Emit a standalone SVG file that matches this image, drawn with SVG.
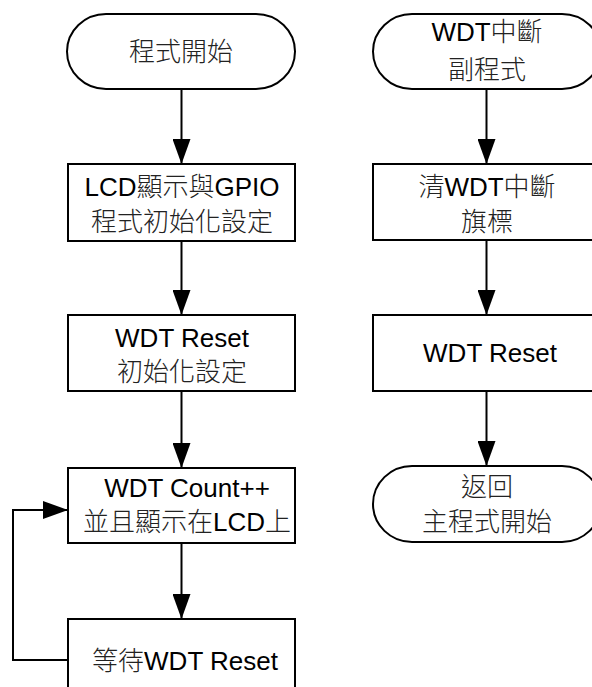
<svg xmlns="http://www.w3.org/2000/svg" width="592" height="687" viewBox="0 0 592 687">
<defs>
<style>
.shape{fill:#fff;stroke:#000;stroke-width:2}
.lbl{font-family:"Liberation Sans","Noto Sans CJK TC",sans-serif;font-size:26px;fill:#000;text-anchor:middle}
.cjk{font-family:"Noto Sans CJK TC",sans-serif;font-weight:300;fill:#222}
.conn{fill:none;stroke:#000;stroke-width:2}
</style>
<marker id="ah" markerUnits="userSpaceOnUse" markerWidth="26" markerHeight="18" refX="25" refY="9" orient="auto">
<path d="M0,0 L25,9 L0,18 Z" fill="#000"/>
</marker>
</defs>
<rect width="592" height="687" fill="#fff"/>
<g id="connectors">
<line class="conn" x1="181.5" y1="89" x2="181.5" y2="164" marker-end="url(#ah)"/>
<line class="conn" x1="181.5" y1="241" x2="181.5" y2="315" marker-end="url(#ah)"/>
<line class="conn" x1="181.5" y1="391" x2="181.5" y2="468" marker-end="url(#ah)"/>
<line class="conn" x1="181.5" y1="543" x2="181.5" y2="619" marker-end="url(#ah)"/>
<polyline class="conn" points="68,660 13,660 13,510 68,510" marker-end="url(#ah)"/>
<line class="conn" x1="486.5" y1="89" x2="486.5" y2="164" marker-end="url(#ah)"/>
<line class="conn" x1="486.5" y1="240" x2="486.5" y2="315" marker-end="url(#ah)"/>
<line class="conn" x1="486.5" y1="391" x2="486.5" y2="466" marker-end="url(#ah)"/>
</g>
<g id="start">
<rect class="shape" x="67" y="14" width="228" height="75" rx="39" ry="37.5"/>
<text class="lbl" x="181" y="61"><tspan class="cjk">程式開始</tspan></text>
</g>
<g id="init-lcd">
<rect class="shape" x="68" y="164" width="227" height="77"/>
<text class="lbl" x="182" y="196">LCD<tspan class="cjk">顯示與</tspan>GPIO</text>
<text class="lbl" x="182" y="231"><tspan class="cjk">程式初始化設定</tspan></text>
</g>
<g id="wdt-init">
<rect class="shape" x="68" y="315" width="227" height="76"/>
<text class="lbl" x="182" y="347">WDT Reset</text>
<text class="lbl" x="182" y="381"><tspan class="cjk">初始化設定</tspan></text>
</g>
<g id="count">
<rect class="shape" x="68" y="468" width="227" height="75"/>
<text class="lbl" x="187" y="497">WDT Count++</text>
<text class="lbl" x="187" y="531"><tspan class="cjk">並且顯示在</tspan>LCD<tspan class="cjk">上</tspan></text>
</g>
<g id="wait">
<rect class="shape" x="68" y="619" width="227" height="80"/>
<text class="lbl" x="185" y="670"><tspan class="cjk">等待</tspan>WDT Reset</text>
</g>
<g id="isr">
<rect class="shape" x="373" y="14" width="228" height="75" rx="39" ry="37.5"/>
<text class="lbl" x="487" y="41">WDT<tspan class="cjk">中斷</tspan></text>
<text class="lbl" x="487" y="79"><tspan class="cjk">副程式</tspan></text>
</g>
<g id="clear-flag">
<rect class="shape" x="373" y="164" width="228" height="76"/>
<text class="lbl" x="487" y="196"><tspan class="cjk">清</tspan>WDT<tspan class="cjk">中斷</tspan></text>
<text class="lbl" x="487" y="231"><tspan class="cjk">旗標</tspan></text>
</g>
<g id="wdt-reset">
<rect class="shape" x="373" y="315" width="228" height="76"/>
<text class="lbl" x="490" y="362">WDT Reset</text>
</g>
<g id="return">
<rect class="shape" x="373" y="466" width="228" height="76" rx="39" ry="38"/>
<text class="lbl" x="487" y="496"><tspan class="cjk">返回</tspan></text>
<text class="lbl" x="487" y="531"><tspan class="cjk">主程式開始</tspan></text>
</g>
</svg>
